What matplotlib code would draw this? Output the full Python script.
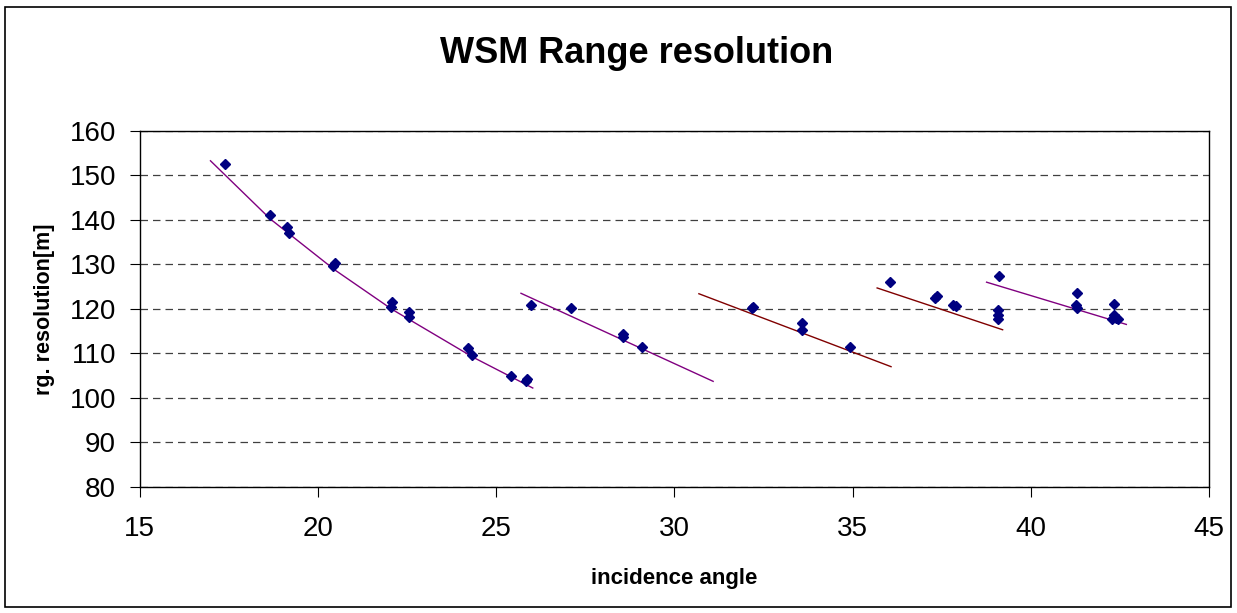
import matplotlib.pyplot as plt
from matplotlib.patches import Rectangle

plt.rcParams['font.family'] = ['Liberation Sans', 'DejaVu Sans']

# measured points
inc_angle = [17.41, 18.67, 19.14, 19.18, 20.47, 20.44, 22.08, 22.05, 22.57, 22.57,
             24.22, 24.32, 25.42, 25.88, 25.84,
             25.97, 27.09, 28.55, 28.57, 29.10,
             32.21, 32.18, 33.58, 33.59, 34.94,
             36.04, 37.30, 37.36, 37.81, 37.90,
             39.10, 39.08, 39.07, 39.08,
             41.31, 41.28, 41.31, 42.32, 42.34, 42.39, 42.29, 42.46]
rg_res = [152.6, 141.2, 138.5, 137.0, 130.4, 129.7, 121.6, 120.5, 119.2, 118.1,
          111.3, 109.7, 104.8, 104.3, 103.7,
          120.9, 120.3, 114.3, 113.6, 111.5,
          120.5, 120.1, 116.9, 115.3, 111.5,
          126.1, 122.4, 122.9, 120.9, 120.7,
          127.5, 119.8, 118.7, 117.7,
          123.5, 120.9, 120.3, 121.0, 118.7, 117.9, 117.7, 117.7]

# trend lines, one per swath
trend_x = [[16.99, 18.67, 20.47, 22.08, 24.36, 26.03],
           [25.70, 31.09],
           [30.69, 36.08],
           [35.69, 39.21],
           [38.76, 42.68]]
trend_y = [[153.3, 140.2, 128.8, 119.9, 109.1, 102.2],
           [123.5, 103.7],
           [123.4, 107.0],
           [124.7, 115.3],
           [126.0, 116.5]]
trend_col = ['#800080', '#800080', '#800000', '#800000', '#800080']

fig = plt.figure(figsize=(12.37, 6.13), dpi=100)
ax = fig.add_axes([0.1128, 0.2060, 0.8646, 0.5803])

for tx, ty, c in zip(trend_x, trend_y, trend_col):
    ax.plot(tx, ty, color=c, lw=1, zorder=2)
ax.plot(inc_angle, rg_res, linestyle='none', marker='D', ms=5.6,
        color='#000080', zorder=3)

ax.set_xlim(15, 45)
ax.set_ylim(80, 160)
ax.set_xticks(range(15, 46, 5))
ax.set_yticks(range(80, 161, 10))
ax.yaxis.grid(True, color='#404040', linestyle=(0, (6, 4)), lw=0.9)
ax.set_axisbelow(True)
ax.tick_params(labelsize=20, length=7, width=0.8, color='black')
ax.tick_params(axis='y', pad=10)
ax.tick_params(axis='x', pad=14)
for s in ax.spines.values():
    s.set_linewidth(1)
    s.set_color('black')

fig.text(0.515, 0.912, 'WSM Range resolution', ha='center', va='center',
         fontsize=26, fontweight='bold')
fig.text(0.545, 0.057, 'incidence angle', ha='center', va='center',
         fontsize=16, fontweight='bold')
fig.text(0.0356, 0.496, 'rg. resolution[m]', ha='center', va='center',
         rotation=90, fontsize=15.5, fontweight='bold')

fig.patches.append(Rectangle((5 / 1237, 6 / 613), 1226 / 1237, 600 / 613,
                             transform=fig.transFigure, fill=False,
                             edgecolor='black', lw=1.2))

fig.savefig('out.png', dpi=100)
